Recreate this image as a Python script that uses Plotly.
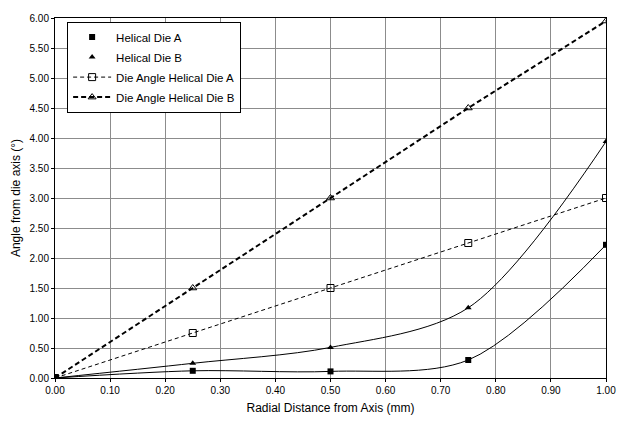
import plotly.graph_objects as go

x = [0.0, 0.25, 0.5, 0.75, 1.0]
helical_a = [0.0, 0.12, 0.11, 0.30, 2.22]
helical_b = [0.0, 0.245, 0.51, 1.17, 3.94]
die_angle_a = [0.0, 0.75, 1.5, 2.25, 3.0]
die_angle_b = [0.0, 1.5, 3.0, 4.5, 5.95]

x_ticks = [i / 10 for i in range(11)]
y_ticks = [i / 2 for i in range(13)]

fig = go.Figure()

fig.add_trace(go.Scatter(x=x, y=helical_a, mode="lines+markers", name="Helical Die A",
                         line=dict(color="black", width=1, shape="spline", smoothing=0.9),
                         marker=dict(symbol="square", size=6, color="black"), showlegend=False))
fig.add_trace(go.Scatter(x=x, y=helical_b, mode="lines+markers", name="Helical Die B",
                         line=dict(color="black", width=1, shape="spline", smoothing=0.9),
                         marker=dict(symbol="triangle-up", size=6, color="black"), showlegend=False))
# legend-only entries (markers only)
fig.add_trace(go.Scatter(x=[None], y=[None], mode="markers", name="Helical Die A", legendgroup="a",
                         marker=dict(symbol="square", size=6, color="black")))
fig.add_trace(go.Scatter(x=[None], y=[None], mode="markers", name="Helical Die B", legendgroup="b",
                         marker=dict(symbol="triangle-up", size=6, color="black")))
fig.add_trace(go.Scatter(x=x, y=die_angle_a, mode="lines+markers", name="Die Angle Helical Die A",
                         legendgroup="c",
                         line=dict(color="black", width=1, dash="4px,3px"),
                         marker=dict(symbol="square-open", size=7, color="black")))
fig.add_trace(go.Scatter(x=x, y=die_angle_b, mode="lines+markers", name="Die Angle Helical Die B",
                         legendgroup="d",
                         line=dict(color="black", width=2, dash="5px,3px"),
                         marker=dict(symbol="triangle-up-open", size=7, color="black", line=dict(width=1))))

axis_common = dict(showline=True, linecolor="black", linewidth=1, mirror=True,
                   showgrid=True, gridcolor="#8c8c8c", gridwidth=1, zeroline=False,
                   ticks="outside", ticklen=3, tickcolor="black",
                   tickfont=dict(family="Liberation Sans, Arial", size=10, color="black"))

fig.update_xaxes(range=[0, 1], tickvals=x_ticks, tickformat=".2f",
                 title=dict(text="Radial Distance from Axis (mm)",
                            font=dict(family="Liberation Sans, Arial", size=12, color="black"),
                            standoff=8),
                 **axis_common)
fig.update_yaxes(range=[0, 6], tickvals=y_ticks, tickformat=".2f",
                 title=dict(text="Angle from die axis (°)",
                            font=dict(family="Liberation Sans, Arial", size=12, color="black"),
                            standoff=6),
                 **axis_common)

fig.update_layout(
    width=628, height=424,
    margin=dict(l=55, r=18, t=12, b=37),
    plot_bgcolor="white", paper_bgcolor="white",
    font=dict(family="Liberation Sans, Arial", size=11, color="black"),
    legend=dict(x=0.022, y=0.99, xanchor="left", yanchor="top",
                bgcolor="white", bordercolor="black", borderwidth=1,
                font=dict(family="Liberation Sans, Arial", size=11.5, color="black"),
                itemwidth=38, tracegroupgap=1),
)

fig.write_html("out.html")
